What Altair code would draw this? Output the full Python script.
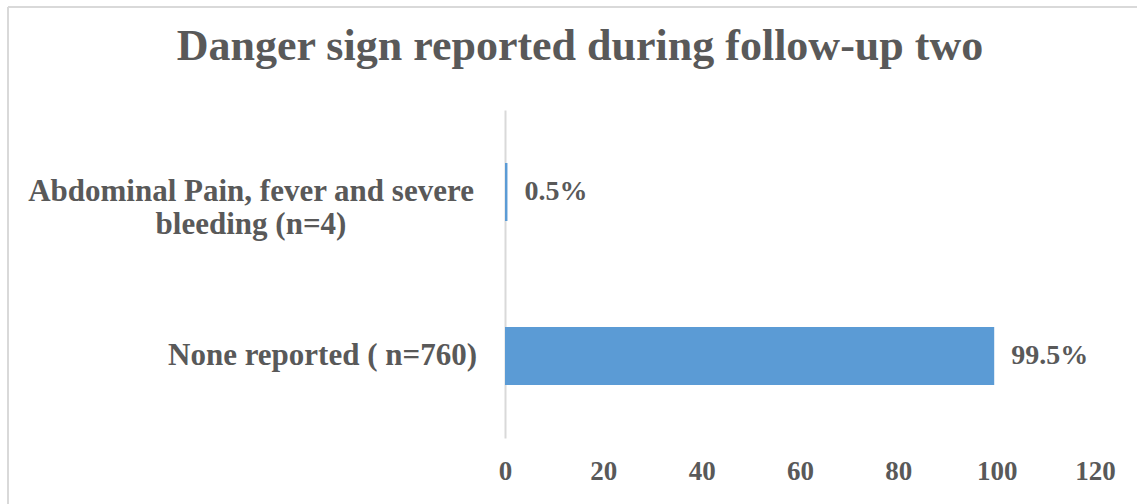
import altair as alt
import pandas as pd

# Danger signs reported at the second follow-up visit (percent of women)
categories = ["Abdominal Pain, fever and severe\nbleeding (n=4)", "None reported ( n=760)"]
percent = [0.5, 99.5]
value_labels = ["0.5%", "99.5%"]
x_ticks = [0, 20, 40, 60, 80, 100, 120]

df = pd.DataFrame({"category": categories, "percent": percent, "label": value_labels})

FONT = "Liberation Serif"
GREY = "#595959"
BLUE = "#5B9BD5"

y_enc = alt.Y(
    "category:N",
    sort=categories,
    scale=alt.Scale(paddingInner=0, paddingOuter=0),
    axis=alt.Axis(
        title=None, labels=False, ticks=False, domain=True,
        domainColor="#d9d9d9", domainWidth=2, grid=False,
    ),
)
x_enc = alt.X(
    "percent:Q",
    scale=alt.Scale(domain=[0, 120], nice=False),
    axis=alt.Axis(
        title=None, values=x_ticks, domain=False, ticks=False, grid=False,
        labelFont=FONT, labelFontSize=27, labelFontWeight="bold",
        labelColor=GREY, labelPadding=20, labelFlush=False,
    ),
)

bars = alt.Chart(df).mark_bar(size=58, color=BLUE).encode(x=x_enc, y=y_enc)

values = alt.Chart(df).mark_text(
    align="left", baseline="middle", dx=17, font=FONT, fontSize=28,
    fontWeight="bold", color=GREY,
).encode(x="percent:Q", y=alt.Y("category:N", sort=categories), text="label:N")

# category names: the two-line name is centred line by line, the short one is right-aligned
cat_long = alt.Chart(df).transform_filter(
    alt.datum.category == categories[0]
).mark_text(
    align="center", baseline="middle", lineBreak="\n", lineHeight=33,
    font=FONT, fontSize=31, fontWeight="bold", color=GREY,
).encode(x=alt.value(-254), y=alt.Y("category:N", sort=categories), text="category:N")

cat_short = alt.Chart(df).transform_filter(
    alt.datum.category == categories[1]
).mark_text(
    align="right", baseline="middle",
    font=FONT, fontSize=31, fontWeight="bold", color=GREY,
).encode(x=alt.value(-28), y=alt.Y("category:N", sort=categories), text="category:N")

# light frame around the chart (top and left edges)
frame_top = alt.Chart(df).mark_rule(color="#d9d9d9", strokeWidth=2).encode(
    x=alt.value(-497), x2=alt.value(650), y=alt.value(-103)
)
frame_left = alt.Chart(df).mark_rule(color="#d9d9d9", strokeWidth=2).encode(
    x=alt.value(-497), y=alt.value(-103), y2=alt.value(400)
)

chart = alt.layer(bars, values, cat_long, cat_short, frame_top, frame_left).properties(
    width=590,
    height=328,
    padding={"left": 505, "top": 110, "right": 42, "bottom": 66},
    autosize=alt.AutoSizeParams(type="none"),
    background="white",
    title=alt.TitleParams(
        "Danger sign reported during follow-up two",
        font=FONT, fontSize=44, fontWeight="bold", color=GREY,
        anchor="middle", frame="group", baseline="alphabetic",
        dx=-220, offset=-98,
    ),
).configure_view(stroke=None)

chart.save("out.html", embed_options={"renderer": "svg", "actions": False})
